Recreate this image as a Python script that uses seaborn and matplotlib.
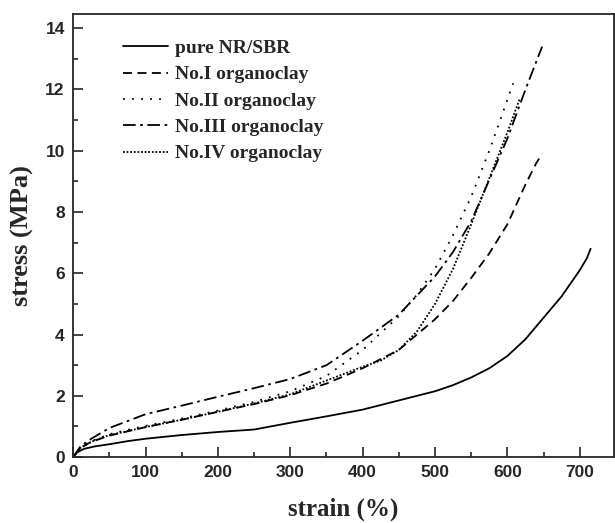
import pandas as pd
import matplotlib.pyplot as plt
import seaborn as sns
from matplotlib.ticker import MultipleLocator

# Stress-strain curves
strain_pure = [0, 5, 15, 30, 50, 75, 100, 150, 200, 250, 300, 350, 400, 450, 500, 525, 550, 575, 600, 625, 650, 675, 700, 710, 715]
stress_pure = [0, 0.15, 0.27, 0.35, 0.42, 0.52, 0.6, 0.72, 0.82, 0.9, 1.12, 1.33, 1.55, 1.85, 2.15, 2.35, 2.6, 2.9, 3.3, 3.85, 4.55, 5.25, 6.1, 6.5, 6.8]

strain_no1 = [0, 10, 25, 50, 100, 150, 200, 250, 300, 350, 400, 450, 500, 525, 550, 575, 600, 625, 640, 648]
stress_no1 = [0, 0.3, 0.5, 0.7, 0.98, 1.22, 1.48, 1.73, 2.02, 2.4, 2.9, 3.5, 4.5, 5.1, 5.85, 6.65, 7.6, 8.9, 9.6, 9.9]

strain_no2 = [0, 10, 25, 50, 100, 150, 200, 250, 300, 350, 400, 450, 475, 500, 525, 550, 575, 590, 608]
stress_no2 = [0, 0.3, 0.52, 0.75, 1.02, 1.26, 1.52, 1.8, 2.15, 2.65, 3.5, 4.6, 5.3, 6.15, 7.25, 8.5, 10.0, 11.0, 12.2]

strain_no3 = [0, 10, 25, 50, 100, 150, 200, 250, 300, 350, 400, 450, 500, 525, 550, 575, 600, 625, 648]
stress_no3 = [0, 0.35, 0.6, 0.95, 1.4, 1.68, 1.97, 2.25, 2.55, 3.0, 3.8, 4.65, 5.9, 6.7, 7.7, 9.05, 10.4, 12.0, 13.4]

strain_no4 = [0, 10, 25, 50, 100, 150, 200, 250, 300, 350, 400, 425, 450, 475, 500, 525, 550, 575, 600, 617]
stress_no4 = [0, 0.3, 0.5, 0.72, 0.98, 1.22, 1.48, 1.75, 2.05, 2.5, 2.95, 3.15, 3.5, 4.1, 5.0, 6.15, 7.6, 9.1, 10.6, 11.7]

labels = ["pure NR/SBR", "No.I organoclay", "No.II organoclay", "No.III organoclay", "No.IV organoclay"]
strains = [strain_pure, strain_no1, strain_no2, strain_no3, strain_no4]
stresses = [stress_pure, stress_no1, stress_no2, stress_no3, stress_no4]
dash_styles = ["-", (0, (5, 3)), (0, (1, 4)), (0, (7, 2.5, 1.5, 2.5)), (0, (1, 1))]

sns.set_style("ticks")

fig = plt.figure(figsize=(6.15, 5.23), dpi=100)
ax = fig.add_axes([0.119, 0.126, 0.879, 0.847])

for lab, xs, ys, ls in zip(labels, strains, stresses, dash_styles):
    df = pd.DataFrame({"strain": xs, "stress": ys})
    sns.lineplot(data=df, x="strain", y="stress", ax=ax, color="black",
                 linestyle=ls, linewidth=1.3, label=lab)

ax.set_xlim(0, 747)
ax.set_ylim(0, 14.46)
ax.xaxis.set_major_locator(MultipleLocator(100))
ax.xaxis.set_minor_locator(MultipleLocator(50))
ax.yaxis.set_major_locator(MultipleLocator(2))
ax.yaxis.set_minor_locator(MultipleLocator(1))
ax.tick_params(which="both", direction="in", top=False, right=False, width=1.2)
ax.tick_params(which="major", length=7, pad=6)
ax.tick_params(which="minor", length=3.5)
for lbl in ax.get_xticklabels() + ax.get_yticklabels():
    lbl.set_fontfamily("Liberation Sans")
    lbl.set_fontweight("bold")
    lbl.set_fontsize(12.5)
for sp in ax.spines.values():
    sp.set_linewidth(1.3)

ax.set_xlabel("strain (%)", fontfamily="Liberation Serif", fontweight="bold", fontsize=18, labelpad=12)
ax.set_ylabel("stress (MPa)", fontfamily="Liberation Serif", fontweight="bold", fontsize=19, labelpad=8)

leg = ax.legend(loc="upper left", bbox_to_anchor=(0.092, 0.943), frameon=False,
                borderaxespad=0, borderpad=0,
                handlelength=2.3, handletextpad=0.36, labelspacing=0.45,
                prop={"family": "Liberation Serif", "weight": "bold", "size": 14})

fig.savefig("out.png", dpi=100)
